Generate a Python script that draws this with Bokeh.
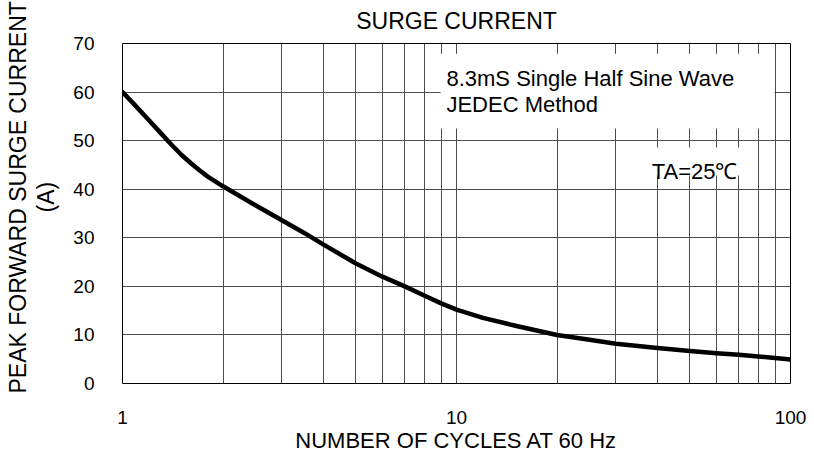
from bokeh.plotting import figure
from bokeh.models import FixedTicker, Label, BoxAnnotation, Range1d, BasicTickFormatter, Title
from bokeh.embed import file_html
from bokeh.resources import INLINE

# ---- data ----
cycles = [1, 1.1, 1.2, 1.3, 1.4, 1.5, 1.6, 1.7, 1.8, 2, 2.5, 3, 3.5, 4, 5,
          6, 7, 8, 9, 10, 12, 15, 20, 25, 30, 40, 50, 60, 70, 80, 90, 100]
surge_current = [60, 57.0, 54.2, 51.6, 49.2, 47.1, 45.4, 43.9, 42.6, 40.6,
                 36.7, 33.6, 31.0, 28.6, 24.7, 22.0, 20.0, 18.1, 16.5, 15.2,
                 13.5, 11.9, 10.0, 9.0, 8.2, 7.3, 6.7, 6.25, 5.9, 5.57, 5.25,
                 4.95]
x_major_ticks = [1, 10, 100]
x_minor_ticks = [2, 3, 4, 5, 6, 7, 8, 9, 20, 30, 40, 50, 60, 70, 80, 90]
y_ticks = [0, 10, 20, 30, 40, 50, 60, 70]

title_text = "SURGE CURRENT"
x_title = "NUMBER OF CYCLES AT 60 Hz"
y_title_1 = "PEAK FORWARD SURGE CURRENT"
y_title_2 = "(A)"
note_1 = "8.3mS Single Half Sine Wave"
note_2 = "JEDEC Method"
note_3 = "TA=25\u2103"

FONT = "Liberation Sans"
GRID = "#4d4d4d"

p = figure(width=806, height=456, x_axis_type="log",
           x_range=Range1d(1, 100), y_range=Range1d(0, 70),
           output_backend="svg", toolbar_location=None,
           min_border_left=122, min_border_right=16,
           min_border_top=43, min_border_bottom=73)

p.background_fill_color = "white"
p.border_fill_color = "white"
p.outline_line_color = "black"
p.outline_line_width = 1

# title (the first line of the original lies outside the picture)
p.title.text = title_text
p.title.align = "center"
p.title.vertical_align = "top"
p.title.standoff = 15
p.title.text_font = FONT
p.title.text_font_size = "23px"
p.title.text_font_style = "normal"
p.title.text_color = "black"

# axes
p.xaxis.ticker = FixedTicker(ticks=x_major_ticks, minor_ticks=x_minor_ticks)
p.xaxis.formatter = BasicTickFormatter()
p.yaxis.ticker = FixedTicker(ticks=y_ticks)
for ax in (p.xaxis, p.yaxis):
    ax.axis_line_color = None
    ax.major_tick_line_color = None
    ax.minor_tick_line_color = None
    ax.major_tick_out = 0
    ax.major_tick_in = 0
    ax.minor_tick_out = 0
    ax.minor_tick_in = 0
    ax.major_label_text_font = FONT
    ax.major_label_text_font_size = "19px"
    ax.major_label_text_color = "black"
p.yaxis.major_label_standoff = 28
p.xaxis.major_label_standoff = 27
p.xaxis.axis_label = x_title
p.xaxis.axis_label_text_font = FONT
p.xaxis.axis_label_text_font_size = "22px"
p.xaxis.axis_label_text_font_style = "normal"
p.xaxis.axis_label_text_color = "black"
p.xaxis.axis_label_standoff = 1

# y axis title, two lines (stacked outward from the axis)
p.add_layout(Title(text=y_title_2, align="left", offset=171, standoff=24,
                   text_font=FONT, text_font_size="23px",
                   text_font_style="normal", text_color="black"), "left")
p.add_layout(Title(text=y_title_1, align="left", offset=-10, standoff=-24,
                   text_font=FONT, text_font_size="23px",
                   text_font_style="normal", text_color="black"), "left")

# grids
p.xgrid.grid_line_color = GRID
p.xgrid.grid_line_width = 1
p.xgrid.minor_grid_line_color = GRID
p.xgrid.minor_grid_line_width = 1
p.ygrid.grid_line_color = GRID
p.ygrid.grid_line_width = 1

# curve
p.line(cycles, surge_current, line_color="black", line_width=4.5,
       line_join="round", line_cap="round")

# white boxes behind the notes
p.add_layout(BoxAnnotation(left=8.96, right=89.6, top=67.9, bottom=52.5,
                           fill_color="white", fill_alpha=1.0, line_color=None))
p.add_layout(BoxAnnotation(left=31.6, right=77.5, top=48.6, bottom=42.8,
                           fill_color="white", fill_alpha=1.0, line_color=None))

def lab(text, x, y, size):
    return Label(text=text, x=x, y=y, x_units="data", y_units="data",
                 text_font=FONT, text_font_size=size, text_color="black",
                 text_align="left", text_baseline="alphabetic")

p.add_layout(lab(note_1, 9.33, 62.8, "22px"))
p.add_layout(lab(note_2, 9.33, 57.4, "22px"))
p.add_layout(lab(note_3, 38.4, 43.6, "22px"))

open("out.html", "w").write(file_html(p, INLINE))
